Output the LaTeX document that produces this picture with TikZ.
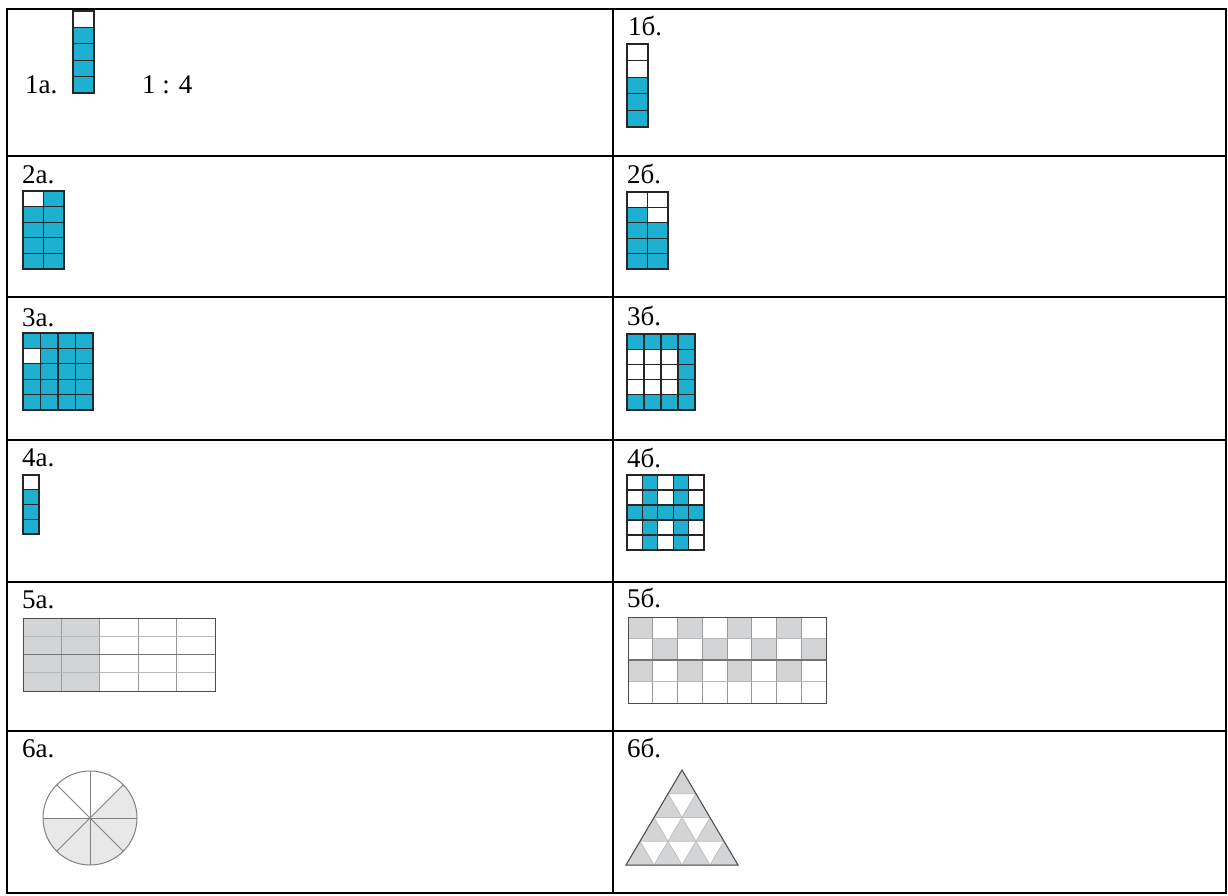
\documentclass[tikz,border=0pt]{standalone}
\usepackage{fontspec}
\setmainfont{Liberation Serif}
\newfontfamily\labelfont{Liberation Serif}

\definecolor{tileblue}{HTML}{1FAFD1}
\definecolor{greycell}{HTML}{D3D4D6}
\definecolor{pale}{HTML}{E8E8E8}

% blue tile block: x0, y0, cell w, cell h, columns, rows, white cells
\newcommand{\tiles}[7]{%
  \fill[tileblue] (#1,#2) rectangle ++({#3*#5},{#4*#6});
  \foreach \c/\r in {#7}
    \fill[white] ({#1+(\c-1)*#3},{#2+(\r-1)*#4}) rectangle ++(#3,#4);
  \foreach \c in {1,...,#5}
    \foreach \r in {1,...,#6}
      \draw[tileline] ({#1+(\c-1)*#3},{#2+(\r-1)*#4}) rectangle ++(#3,#4);
}

\begin{document}
\begin{tikzpicture}[
    x=1pt, y=-1pt,
    rule/.style={line width=2pt, black},
    lbl/.style={anchor=base west, inner sep=0pt, font=\labelfont\fontsize{27}{30}\selectfont},
    tileline/.style={line width=1.3pt, draw=black!85},
    boxframe/.style={line width=1pt, draw=black!70},
    faintline/.style={line width=0.8pt, draw=black!28},
    midline/.style={line width=1.2pt, draw=black!55},
    spoke/.style={line width=1pt, draw=black!50}
]
\useasboundingbox (0,0) rectangle (1228,896);

% table
\draw[rule] (7,9) rectangle (1226,893);
\draw[rule] (613,9) -- (613,893);
\foreach \y in {156,297,440,582,731}
  \draw[rule] (7,\y) -- (1226,\y);

% labels
\node[lbl] (l1a) at (25,94) {1а.};
\node[lbl] (ratio) at (142,94) {1 : 4};
\node[lbl] (l1b) at (628,36) {1б.};
\node[lbl] (l2a) at (22,183) {2а.};
\node[lbl] (l2b) at (627,183) {2б.};
\node[lbl] (l3a) at (22,326) {3а.};
\node[lbl] (l3b) at (627,325) {3б.};
\node[lbl] (l4a) at (22,466) {4а.};
\node[lbl] (l4b) at (627,467) {4б.};
\node[lbl] (l5a) at (22,608) {5а.};
\node[lbl] (l5b) at (627,607) {5б.};
\node[lbl] (l6a) at (22,757) {6а.};
\node[lbl] (l6b) at (627,757) {6б.};

% blue tiles
\tiles{73}{11}{21}{16.4}{1}{5}{1/1}
\tiles{627}{44}{21}{16.6}{1}{5}{1/1,1/2}
\tiles{23}{191}{20.5}{15.6}{2}{5}{1/1}
\tiles{627}{192}{20.5}{15.4}{2}{5}{1/1,2/1,2/2}
\tiles{23}{333}{17.5}{15.4}{4}{5}{1/2}
\tiles{627}{334}{17}{15.2}{4}{5}{1/2,2/2,3/2,1/3,2/3,3/3,1/4,2/4,3/4}
\tiles{23}{475}{16}{14.75}{1}{4}{1/1}
\tiles{627}{475}{15.4}{15}{5}{5}{1/1,3/1,5/1,1/2,3/2,5/2,1/4,3/4,5/4,1/5,3/5,5/5}

% 5a
\fill[greycell] (23,618) rectangle (99.8,691);
\foreach \i in {1,...,4}
  \draw[faintline, draw=black!40] ({23+\i*38.4},618) -- ++(0,73);
\foreach \j in {1,3}
  \draw[faintline] (23,{618+\j*18.25}) -- ++(192,0);
\draw[midline] (23,654.5) -- ++(192,0);
\draw[boxframe] (23,618) rectangle (215,691);

% 5b
\foreach \c/\r in {1/1,3/1,5/1,7/1,2/2,4/2,6/2,8/2,1/3,3/3,5/3,7/3}
  \fill[greycell] ({628+(\c-1)*24.75},{617+(\r-1)*21.5}) rectangle ++(24.75,21.5);
\foreach \i in {1,...,7}
  \draw[faintline, draw=black!40] ({628+\i*24.75},617) -- ++(0,86);
\foreach \j in {1,3}
  \draw[faintline] (628,{617+\j*21.5}) -- ++(198,0);
\draw[midline] (628,660) -- ++(198,0);
\draw[boxframe] (628,617) rectangle (826,703);

% 6a
\coordinate (hub) at (90,818);
\fill[pale] (hub) -- ++(-45:47) arc[start angle=-45, end angle=180, radius=47] -- cycle;
\foreach \a in {0,45,...,315}
  \draw[spoke] (hub) -- ++(\a:47);
\draw[spoke] (hub) circle[radius=47];

% 6b
\foreach \i in {1,...,4}
  \foreach \j in {1,...,\i} {
    \coordinate (top) at ({682+(\j-1)*28-(\i-1)*14},{770+(\i-1)*23.75});
    \filldraw[fill=greycell, draw=black!25, line width=0.8pt] (top) -- ++(14,23.75) -- ++(-28,0) -- cycle;
  }
\draw[boxframe] (682,770) -- (738,865) -- (626,865) -- cycle;
\end{tikzpicture}
\end{document}
